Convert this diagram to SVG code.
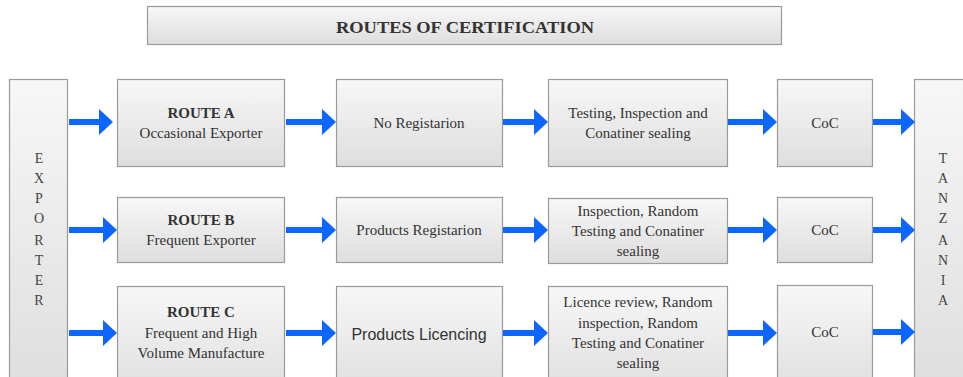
<svg xmlns="http://www.w3.org/2000/svg" width="963" height="377" viewBox="0 0 963 377">
<defs>
<linearGradient id="g" x1="0" y1="0" x2="0" y2="1">
<stop offset="0" stop-color="#f7f7f7"/>
<stop offset="1" stop-color="#dedede"/>
</linearGradient>
<marker id="ah" markerUnits="userSpaceOnUse" markerWidth="14" markerHeight="26" refX="0" refY="13" orient="auto">
<path d="M0,0 L14,13 L0,26 Z" fill="#0d66ff"/>
</marker>
<style>
.box{fill:url(#g);stroke:#9a9a9a;stroke-width:1.2}
.t{font-family:"Liberation Serif","Times New Roman",serif;font-size:15px;fill:#333;text-anchor:middle}
.b{font-weight:bold}
.s{font-family:"Liberation Sans",Arial,sans-serif;font-size:16px;fill:#333;text-anchor:middle}
.v{font-family:"Liberation Serif","Times New Roman",serif;font-size:14px;fill:#444;text-anchor:middle}
.c line{stroke:#0d66ff;stroke-width:6;marker-end:url(#ah)}
</style>
</defs>
<rect width="963" height="377" fill="#ffffff"/>
<g id="title">
<rect class="box" x="147.5" y="6.5" width="634" height="38"/>
<text x="465" y="33" font-family="'Liberation Serif','Times New Roman',serif" font-size="17" font-weight="bold" fill="#333" text-anchor="middle" textLength="258" lengthAdjust="spacingAndGlyphs">ROUTES OF CERTIFICATION</text>
</g>
<g id="exporter">
<rect class="box" x="9.5" y="79.5" width="58" height="310"/>
<text class="v" x="39"><tspan x="39" y="163">E</tspan><tspan x="39" y="183">X</tspan><tspan x="39" y="203">P</tspan><tspan x="39" y="223">O</tspan><tspan x="39" y="245">R</tspan><tspan x="39" y="265">T</tspan><tspan x="39" y="285">E</tspan><tspan x="39" y="305">R</tspan></text>
</g>
<g id="tanzania">
<rect class="box" x="914.5" y="79.5" width="60" height="310"/>
<text class="v"><tspan x="943" y="163">T</tspan><tspan x="943" y="183">A</tspan><tspan x="943" y="203">N</tspan><tspan x="943" y="223">Z</tspan><tspan x="943" y="245">A</tspan><tspan x="943" y="265">N</tspan><tspan x="943" y="285">I</tspan><tspan x="943" y="305">A</tspan></text>
</g>
<g id="routeA">
<rect class="box" x="117.5" y="79.5" width="167" height="87"/>
<text class="t b" x="201" y="118">ROUTE A</text>
<text class="t" x="201" y="138">Occasional Exporter</text>
</g>
<g id="noReg">
<rect class="box" x="336.5" y="79.5" width="166" height="87"/>
<text class="t" x="419" y="128">No Registarion</text>
</g>
<g id="testA">
<rect class="box" x="548.5" y="79.5" width="179" height="87"/>
<text class="t" x="638" y="118">Testing, Inspection and</text>
<text class="t" x="638" y="138">Conatiner sealing</text>
</g>
<g id="cocA">
<rect class="box" x="777.5" y="79.5" width="95" height="87"/>
<text class="t" x="825" y="128">CoC</text>
</g>
<g id="routeB">
<rect class="box" x="117.5" y="197.5" width="167" height="65"/>
<text class="t b" x="201" y="225">ROUTE B</text>
<text class="t" x="201" y="245">Frequent Exporter</text>
</g>
<g id="prodReg">
<rect class="box" x="336.5" y="197.5" width="166" height="65"/>
<text class="t" x="419" y="235">Products Registarion</text>
</g>
<g id="inspB">
<rect class="box" x="548.5" y="198.5" width="179" height="65"/>
<text class="t" x="638" y="216">Inspection, Random</text>
<text class="t" x="638" y="236">Testing and Conatiner</text>
<text class="t" x="638" y="256">sealing</text>
</g>
<g id="cocB">
<rect class="box" x="777.5" y="197.5" width="95" height="65"/>
<text class="t" x="825" y="235">CoC</text>
</g>
<g id="routeC">
<rect class="box" x="117.5" y="286.5" width="167" height="110"/>
<text class="t b" x="201" y="317">ROUTE C</text>
<text class="t" x="201" y="338">Frequent and High</text>
<text class="t" x="201" y="358">Volume Manufacture</text>
</g>
<g id="prodLic">
<rect class="box" x="336.5" y="286.5" width="166" height="110"/>
<text class="s" x="419" y="340">Products Licencing</text>
</g>
<g id="licC">
<rect class="box" x="548.5" y="286.5" width="179" height="110"/>
<text class="t" x="638" y="307">Licence review, Random</text>
<text class="t" x="638" y="328">inspection, Random</text>
<text class="t" x="638" y="348">Testing and Conatiner</text>
<text class="t" x="638" y="368">sealing</text>
</g>
<g id="cocC">
<rect class="box" x="777.5" y="285.5" width="95" height="110"/>
<text class="t" x="825" y="337">CoC</text>
</g>
<g id="connectors" class="c">
<line x1="69" y1="122" x2="99" y2="122"/>
<line x1="286" y1="122" x2="322" y2="122"/>
<line x1="503" y1="122" x2="534" y2="122"/>
<line x1="728" y1="122" x2="763" y2="122"/>
<line x1="873" y1="122" x2="901" y2="122"/>
<line x1="69" y1="230" x2="103" y2="230"/>
<line x1="286" y1="230" x2="322" y2="230"/>
<line x1="503" y1="230" x2="534" y2="230"/>
<line x1="728" y1="230" x2="763" y2="230"/>
<line x1="873" y1="230" x2="901" y2="230"/>
<line x1="69" y1="333" x2="103" y2="333"/>
<line x1="286" y1="333" x2="322" y2="333"/>
<line x1="503" y1="333" x2="534" y2="333"/>
<line x1="728" y1="333" x2="763" y2="333"/>
<line x1="873" y1="332" x2="901" y2="332"/>
</g>
</svg>
